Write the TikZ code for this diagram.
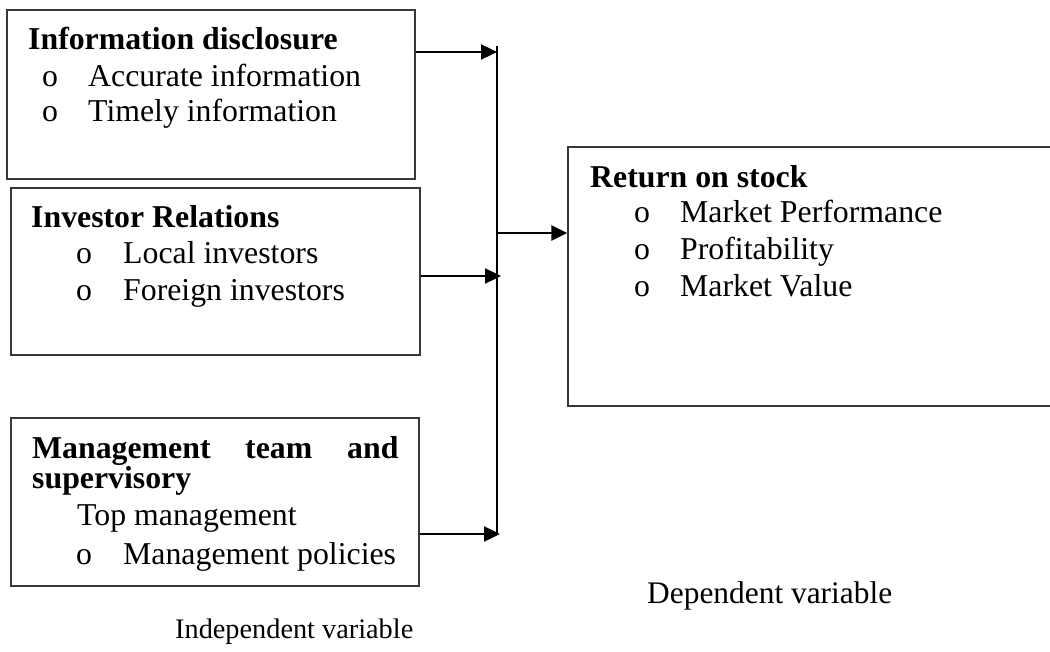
\documentclass[tikz,border=0pt]{standalone}
\usepackage{fontspec}
\setmainfont{Liberation Serif}
\usetikzlibrary{arrows.meta}
\begin{document}
\begin{tikzpicture}[x=1pt,y=-1pt,
  box/.style={draw=black!78,line width=1.3pt,rectangle,inner sep=0pt},
  arr/.style={draw=black,line width=2.4pt,-{Triangle[length=16pt,width=15pt]}},
  bar/.style={draw=black,line width=2.6pt},
  txt/.style={anchor=base west,inner sep=0pt,font=\fontsize{31.8}{35}\selectfont},
  hd/.style={txt,font=\fontsize{31.8}{35}\selectfont\bfseries},
  lbl/.style={anchor=base west,inner sep=0pt}]
\clip (0,0) rectangle (1050,652);
\fill[white] (0,0) rectangle (1050,652);
% boxes
\node[box,minimum width=408pt,minimum height=169pt] (b1) at (211,94.5) {};
\node[box,minimum width=409pt,minimum height=167pt] (b2) at (215.5,271.5) {};
\node[box,minimum width=408pt,minimum height=168pt] (b3) at (215,502) {};
\node[box,minimum width=500pt,minimum height=259pt] (b4) at (818,276.5) {};
% box 1 text
\node[hd] (t1) at (28,50) {Information disclosure};
\node[txt] (t1a) at (42,87) {o};
\node[txt] (t1b) at (88,87) {Accurate information};
\node[txt] (t1c) at (42,122) {o};
\node[txt] (t1d) at (88,122) {Timely information};
% box 2 text
\node[hd] (t2) at (31,228) {Investor Relations};
\node[txt] (t2a) at (76,264) {o};
\node[txt] (t2b) at (123,264) {Local investors};
\node[txt] (t2c) at (76,301) {o};
\node[txt] (t2d) at (123,301) {Foreign investors};
% box 3 text
\node[hd] (t3a) at (32,458) {Management};
\node[hd] (t3b) at (245,458) {team};
\node[hd] (t3c) at (347,458) {and};
\node[hd] (t3d) at (32,488) {supervisory};
\node[txt] (t3e) at (77,525) {Top management};
\node[txt] (t3f) at (76,564) {o};
\node[txt] (t3g) at (123,564) {Management policies};
% box 4 text
\node[hd] (t4) at (590,188) {Return on stock};
\node[txt] (t4a) at (634,223) {o};
\node[txt] (t4b) at (680,223) {Market Performance};
\node[txt] (t4c) at (634,260) {o};
\node[txt] (t4d) at (680,260) {Profitability};
\node[txt] (t4e) at (634,297) {o};
\node[txt] (t4f) at (680,297) {Market Value};
% labels
\node[lbl,font=\fontsize{28.3}{32}\selectfont] (ind) at (175,638) {Independent variable};
\node[lbl,font=\fontsize{31.4}{35}\selectfont] (dep) at (647,603) {Dependent variable};
% connectors
\coordinate (vt) at (497,46);
\coordinate (vb) at (497,534);
\coordinate (j1) at (497,52);
\coordinate (j2) at (501,276);
\coordinate (j3) at (500,534);
\coordinate (jm) at (497,233);
\draw[bar] (vt) -- (vb);
\draw[arr] (j1 -| b1.east) -- (j1);
\draw[arr] (j2 -| b2.east) -- (j2);
\draw[arr] (j3 -| b3.east) -- (j3);
\draw[arr] (jm) -- (jm -| b4.west);
\end{tikzpicture}
\end{document}
